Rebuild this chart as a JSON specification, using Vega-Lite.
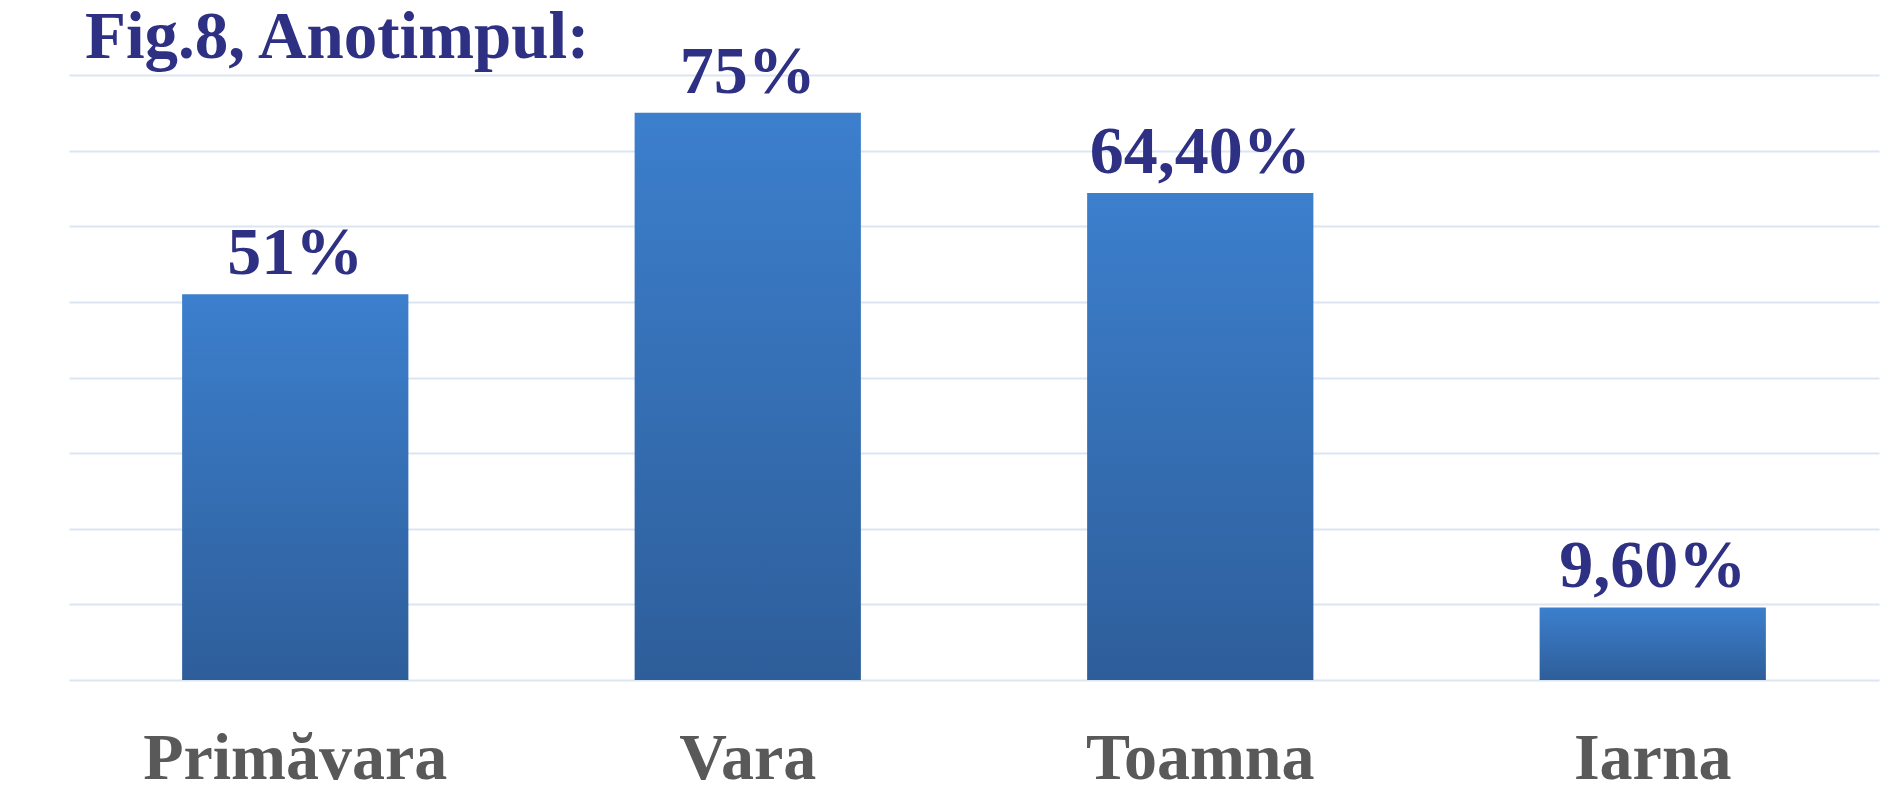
{
  "$schema": "https://vega.github.io/schema/vega-lite/v6.json",
  "width": 1810,
  "height": 605,
  "autosize": {"type": "none"},
  "padding": {"left": 69, "top": 75, "right": 22, "bottom": 113},
  "background": "#FFFFFF",
  "title": {
    "text": "Fig.8, Anotimpul:",
    "anchor": "start",
    "offset": 10,
    "dx": 16,
    "dy": 43,
    "font": "Liberation Serif",
    "fontSize": 67,
    "fontWeight": "bold",
    "color": "#2E3083"
  },
  "data": {
    "values": [
      {"season": "Primăvara", "value": 51, "label": "51%"},
      {"season": "Vara", "value": 75, "label": "75%"},
      {"season": "Toamna", "value": 64.4, "label": "64,40%"},
      {"season": "Iarna", "value": 9.6, "label": "9,60%"}
    ]
  },
  "encoding": {
    "x": {
      "field": "season",
      "type": "nominal",
      "sort": null,
      "scale": {"paddingInner": 0.5, "paddingOuter": 0.25},
      "axis": {
        "title": null,
        "labelAngle": 0,
        "domain": false,
        "ticks": false,
        "tickSize": 0,
        "labelPadding": 98,
        "labelLimit": 0,
        "labelBaseline": "alphabetic",
        "labelFont": "Liberation Serif",
        "labelFontSize": 66,
        "labelFontWeight": "bold",
        "labelColor": "#595959",
        "grid": false
      }
    },
    "y": {
      "field": "value",
      "type": "quantitative",
      "scale": {"domain": [0, 80], "nice": false},
      "axis": {
        "title": null,
        "labels": false,
        "ticks": false,
        "domain": false,
        "values": [0, 10, 20, 30, 40, 50, 60, 70, 80],
        "grid": true,
        "gridColor": "#DCE6F2",
        "gridWidth": 2
      }
    }
  },
  "layer": [
    {
      "mark": {
        "type": "bar",
        "color": {
          "gradient": "linear",
          "x1": 0, "y1": 0, "x2": 0, "y2": 1,
          "stops": [
            {"offset": 0, "color": "#3C7FCD"},
            {"offset": 1, "color": "#2E5E9A"}
          ]
        }
      }
    },
    {
      "mark": {
        "type": "text",
        "baseline": "alphabetic",
        "dy": -20,
        "font": "Liberation Serif",
        "fontSize": 68,
        "fontWeight": "bold",
        "color": "#2E3083"
      },
      "encoding": {"text": {"field": "label"}}
    }
  ],
  "config": {"view": {"stroke": null}}
}
